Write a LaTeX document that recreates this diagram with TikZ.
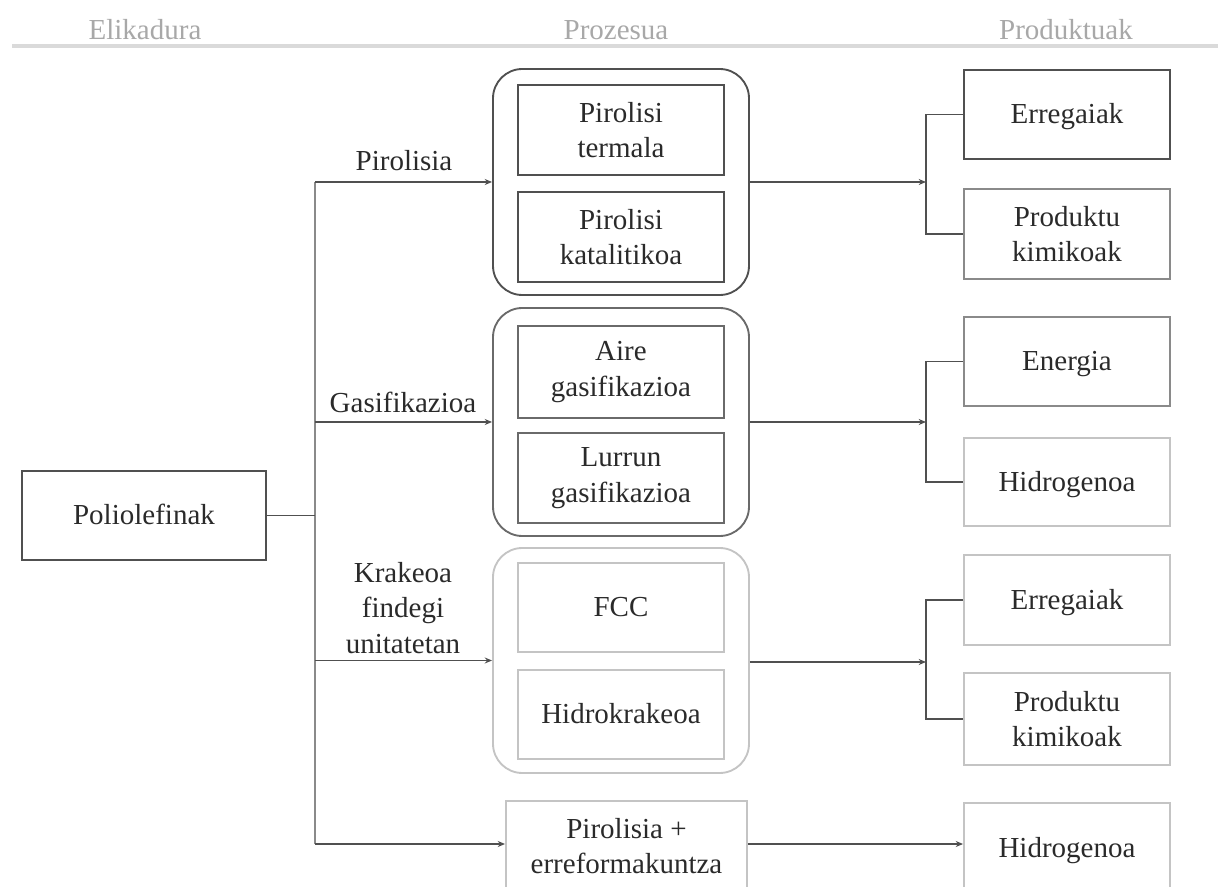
\documentclass[tikz,border=0pt]{standalone}
\usepackage{fontspec}
\setmainfont{Liberation Serif}
\usetikzlibrary{arrows.meta}
\definecolor{cdark}{HTML}{505050}
\definecolor{cmid}{HTML}{8A8A8A}
\definecolor{clight}{HTML}{C4C4C4}
\definecolor{ctext}{HTML}{2A2A2A}
\definecolor{chead}{HTML}{A8A8A8}
\definecolor{cline}{HTML}{DADADA}
\begin{document}
\begin{tikzpicture}[x=0.75pt,y=-0.75pt,
  every node/.style={font=\fontsize{21.75}{26.5}\selectfont, text=ctext, align=center, inner sep=0pt},
  hdr/.style={text=chead, anchor=base},
  box/.style={draw=cdark, line width=1.4pt, rectangle, minimum width=154.5pt, minimum height=67.5pt},
  one/.style={text height=15pt, text depth=1pt},
  grp/.style={draw=cdark, line width=1.4pt, rectangle, rounded corners=22pt, minimum width=192pt},
  conn/.style={draw=cdark, line width=1.4pt},
  arr/.style={conn, -{Stealth[length=5.5pt,width=4.5pt]}},
  lbl/.style={anchor=base}
]
\useasboundingbox (0,0) rectangle (1218,887);
\clip (0,0) rectangle (1218,887);

% header
\node[hdr] (h1) at (145,40) {Elikadura};
\node[hdr] (h2) at (616,40) {Prozesua};
\node[hdr] (h3) at (1066,40) {Produktuak};
\coordinate (hl1) at (12,46);
\coordinate (hl2) at (1218,46);
\draw[cline, line width=3pt] (hl1) -- (hl2);

% feed
\node[box, one, minimum width=183pt, minimum height=66.75pt] (poli) at (144,515.5) {Poliolefinak};

% process groups
\node[grp, minimum height=169.5pt] (g1) at (621,182) {};
\node[box] (p1a) at (621,130) {Pirolisi\\termala};
\node[box] (p1b) at (621,237) {Pirolisi\\katalitikoa};

\node[grp, draw=cdark!85, minimum height=171pt] (g2) at (621,422) {};
\node[box, draw=cdark!85, minimum height=69pt] (p2a) at (621,372) {Aire\\gasifikazioa};
\node[box, draw=cdark!85] (p2b) at (621,478) {Lurrun\\gasifikazioa};

\node[grp, draw=clight, minimum height=168.75pt] (g3) at (621,660.5) {};
\node[box, one, draw=clight, minimum height=66.75pt] (p3a) at (621,607.5) {FCC};
\node[box, one, draw=clight, minimum height=66.75pt] (p3b) at (621,714.5) {Hidrokrakeoa};

\node[box, draw=clight, minimum width=180.75pt, minimum height=67.5pt] (p4) at (626.5,846) {Pirolisia +\\erreformakuntza};

% products
\node[box, one, minimum height=66.75pt] (r1a) at (1067,114.5) {Erregaiak};
\node[box, draw=cmid] (r1b) at (1067,234) {Produktu\\kimikoak};
\node[box, one, draw=cmid, minimum height=66.75pt] (r2a) at (1067,361.5) {Energia};
\node[box, one, draw=clight, minimum height=66pt] (r2b) at (1067,482) {Hidrogenoa};
\node[box, one, draw=clight] (r3a) at (1067,600) {Erregaiak};
\node[box, draw=clight, minimum height=69pt] (r3b) at (1067,719) {Produktu\\kimikoak};
\node[box, one, draw=clight] (r4) at (1067,848) {Hidrogenoa};

% trunk
\coordinate (tTop) at (315,182);
\coordinate (tBot) at (315,844);
\draw[conn, draw=cmid] (tTop) -- (tBot);
\draw[conn] (poli.east) -- (poli.east -| tTop);

% inputs
\draw[arr] (tTop) -- (g1.west);
\draw[arr] (tTop |- g2.west) -- (g2.west);
\draw[arr] (tTop |- g3.west) -- (g3.west);
\draw[arr] (tBot) -- (tBot -| p4.west);

% labels
\node[lbl] (l1) at (404,171) {Pirolisia};
\node[lbl] (l2) at (403,413) {Gasifikazioa};
\node (l3) at (403,608) {Krakeoa\\findegi\\unitatetan};

% outputs with brackets
\coordinate (k1) at (926,182);
\coordinate (k2) at (926,422);
\coordinate (k3) at (926,662);
\draw[arr] (g1.east) -- (k1);
\draw[arr] (g2.east) -- (k2);
\draw[arr] (g3.east |- k3) -- (k3);
\draw[conn] (r1a.west) -| (k1) |- (r1b.west);
\draw[conn] (r2a.west) -| (k2) |- (r2b.west);
\draw[conn] (r3a.west) -| (k3) |- (r3b.west);
\draw[arr] (tBot -| p4.east) -- (tBot -| r4.west);
\end{tikzpicture}
\end{document}
